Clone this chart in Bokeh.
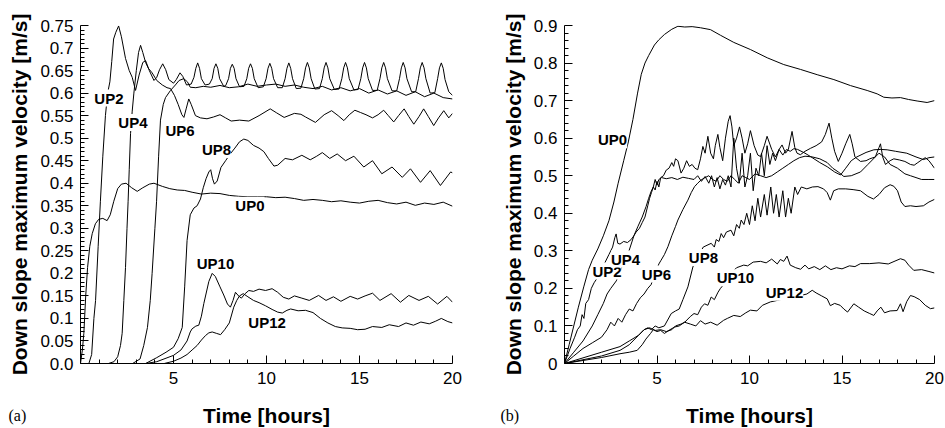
from bokeh.plotting import figure
from bokeh.layouts import row, column
from bokeh.models import Range1d, FixedTicker, CustomJSTickFormatter, Label
from bokeh.core.properties import value
from bokeh.embed import file_html
from bokeh.resources import INLINE

# ---------------- data: panel (a) ----------------
t_a_up0 = [0, 0.1, 0.18, 0.28, 0.38, 0.5, 0.63, 0.8, 0.98, 1.2, 1.43, 1.6, 1.79, 2.0, 2.2, 2.45, 2.75, 3.05,
           3.35, 3.7, 3.95, 4.4, 4.8, 5.2, 5.6, 6.0, 6.5, 7.0, 7.5, 8.0, 8.5, 9.0, 9.5, 10.0, 10.5, 11.0, 11.5,
           12.0, 12.5, 13.0, 13.5, 14.0, 14.5, 15.0, 15.5, 16.0, 16.5, 17.0, 17.5, 18.0, 18.5, 19.0, 19.5, 20.0]
v_a_up0 = [0, 0.03, 0.067, 0.15, 0.213, 0.26, 0.288, 0.31, 0.32, 0.322, 0.317, 0.33, 0.36, 0.388, 0.398, 0.4,
           0.39, 0.382, 0.39, 0.398, 0.4, 0.393, 0.388, 0.385, 0.384, 0.38, 0.376, 0.378, 0.377, 0.373, 0.371,
           0.37, 0.37, 0.37, 0.368, 0.369, 0.366, 0.362, 0.364, 0.362, 0.359, 0.361, 0.358, 0.356, 0.36, 0.362,
           0.357, 0.354, 0.358, 0.351, 0.356, 0.353, 0.358, 0.349]

t_a_up2 = [0, 0.45, 0.6, 0.72, 0.81, 0.95, 1.07, 1.2, 1.34, 1.46, 1.58, 1.68, 1.78, 1.9, 2.05, 2.2, 2.42,
           2.62, 2.78, 2.96, 3.15, 3.35, 3.5, 3.7, 3.95, 4.1, 4.25, 4.42, 4.58, 4.75, 5.0, 5.15, 5.35, 5.5,
           5.7, 5.95, 6.1, 6.2, 6.3, 6.4, 6.5, 6.7, 6.93, 7.08, 7.18, 7.28, 7.38, 7.48, 7.7, 7.81, 7.96, 8.06,
           8.16, 8.26, 8.36, 8.55, 8.79, 8.94, 9.04, 9.14, 9.24, 9.34, 9.55, 9.83, 9.98, 10.08, 10.18, 10.28,
           10.38, 10.6, 10.85, 11.0, 11.1, 11.2, 11.3, 11.4, 11.6, 11.85, 12.0, 12.1, 12.2, 12.3, 12.4, 12.6,
           12.85, 13.0, 13.1, 13.2, 13.3, 13.4, 13.65, 13.9, 14.05, 14.15, 14.25, 14.35, 14.45, 14.7, 14.92,
           15.07, 15.17, 15.27, 15.37, 15.47, 15.7, 15.95, 16.1, 16.2, 16.3, 16.4, 16.5, 16.75, 17.0, 17.15,
           17.25, 17.35, 17.45, 17.55, 17.8, 18.02, 18.17, 18.27, 18.37, 18.47, 18.57, 18.8, 19.05, 19.2,
           19.3, 19.4, 19.5, 19.6, 19.8, 20.0]
v_a_up2 = [0, 0, 0.02, 0.1, 0.14, 0.26, 0.36, 0.46, 0.55, 0.6, 0.625, 0.67, 0.72, 0.735, 0.749, 0.725, 0.677,
           0.65, 0.635, 0.606, 0.64, 0.668, 0.672, 0.65, 0.628, 0.635, 0.652, 0.665, 0.652, 0.63, 0.622, 0.63,
           0.645, 0.637, 0.618, 0.62, 0.635, 0.655, 0.667, 0.655, 0.632, 0.618, 0.62, 0.632, 0.655, 0.665,
           0.655, 0.632, 0.615, 0.617, 0.632, 0.655, 0.664, 0.655, 0.632, 0.614, 0.615, 0.632, 0.655, 0.665,
           0.655, 0.632, 0.612, 0.614, 0.632, 0.655, 0.666, 0.655, 0.632, 0.612, 0.612, 0.632, 0.655, 0.667,
           0.655, 0.632, 0.61, 0.611, 0.632, 0.656, 0.668, 0.656, 0.632, 0.609, 0.61, 0.632, 0.656, 0.668,
           0.656, 0.632, 0.608, 0.609, 0.632, 0.656, 0.668, 0.656, 0.632, 0.607, 0.608, 0.632, 0.656, 0.668,
           0.656, 0.632, 0.606, 0.606, 0.632, 0.656, 0.668, 0.656, 0.632, 0.605, 0.605, 0.632, 0.656, 0.668,
           0.656, 0.632, 0.603, 0.603, 0.632, 0.656, 0.668, 0.656, 0.632, 0.6, 0.601, 0.632, 0.656, 0.667,
           0.655, 0.63, 0.603, 0.595]

t_a_up4 = [0, 1.5, 1.8, 2.0, 2.15, 2.24, 2.33, 2.42, 2.5, 2.56, 2.62, 2.69, 2.78, 2.87, 3.0, 3.12, 3.23, 3.35,
           3.5, 3.65, 3.85, 4.1, 4.4, 4.65, 4.84, 5.05, 5.25, 5.45, 5.56, 5.68, 5.82, 5.95, 6.18, 6.45, 6.8,
           7.15, 7.5, 7.8, 8.1, 8.55, 9.05, 9.6, 10.2, 10.55, 10.95, 11.5, 11.85, 12.1, 12.63, 13.1, 13.5,
           13.85, 14.16, 14.45, 14.75, 15.05, 15.35, 15.7, 16.0, 16.3, 16.55, 16.84, 17.1, 17.4, 17.65, 17.92,
           18.2, 18.45, 18.7, 18.99, 19.25, 19.53, 19.8, 20.0]
v_a_up4 = [0, 0, 0.004, 0.015, 0.04, 0.067, 0.14, 0.213, 0.3, 0.36, 0.43, 0.51, 0.56, 0.6, 0.65, 0.69, 0.706,
           0.69, 0.668, 0.655, 0.645, 0.628, 0.618, 0.612, 0.61, 0.595, 0.575, 0.552, 0.546, 0.565, 0.587,
           0.575, 0.55, 0.545, 0.543, 0.547, 0.552, 0.545, 0.538, 0.54, 0.538, 0.55, 0.565, 0.556, 0.546,
           0.555, 0.553, 0.547, 0.535, 0.552, 0.561, 0.55, 0.539, 0.552, 0.562, 0.557, 0.552, 0.545, 0.552,
           0.562, 0.55, 0.536, 0.55, 0.565, 0.548, 0.531, 0.548, 0.565, 0.548, 0.528, 0.545, 0.561, 0.545,
           0.555]

t_a_up6 = [0, 2.8, 3.2, 3.4, 3.6, 3.75, 3.85, 4.0, 4.09, 4.2, 4.3, 4.45, 4.57, 4.84, 5.1, 5.3, 5.55, 5.75,
           5.9, 6.2, 6.6, 7.0, 7.5, 8.0, 8.5, 9.0, 9.5, 10.0, 10.5, 11.0, 11.5, 12.0, 12.5, 13.0, 13.5, 14.0,
           14.5, 15.0, 15.5, 16.0, 16.5, 17.0, 17.5, 18.0, 18.5, 19.0, 19.5, 20.0]
v_a_up6 = [0, 0, 0.01, 0.04, 0.08, 0.14, 0.2, 0.3, 0.36, 0.46, 0.54, 0.575, 0.59, 0.606, 0.618, 0.628, 0.632,
           0.625, 0.613, 0.612, 0.615, 0.613, 0.617, 0.612, 0.614, 0.62, 0.615, 0.618, 0.62, 0.615, 0.618,
           0.613, 0.61, 0.615, 0.607, 0.612, 0.605, 0.61, 0.6, 0.607, 0.598, 0.605, 0.595, 0.603, 0.592, 0.6,
           0.59, 0.587]

t_a_up8 = [0, 3.5, 4.1, 4.6, 5.0, 5.25, 5.47, 5.6, 5.73, 5.9, 6.1, 6.27, 6.45, 6.6, 6.75, 6.9, 7.0, 7.1, 7.2,
           7.35, 7.55, 7.8, 8.05, 8.3, 8.55, 8.78, 9.0, 9.3, 9.6, 9.86, 10.1, 10.4, 10.6, 11.0, 11.4, 11.9,
           12.35, 12.7, 13.0, 13.4, 13.8, 14.25, 14.7, 15.23, 15.7, 16.2, 16.75, 17.3, 17.74, 18.28, 18.8,
           19.35, 19.9, 20.0]
v_a_up8 = [0, 0, 0.013, 0.025, 0.036, 0.055, 0.08, 0.17, 0.273, 0.33, 0.345, 0.35, 0.365, 0.39, 0.41, 0.425,
           0.43, 0.41, 0.398, 0.405, 0.435, 0.45, 0.465, 0.478, 0.492, 0.498, 0.495, 0.484, 0.478, 0.47, 0.455,
           0.438, 0.44, 0.455, 0.452, 0.462, 0.452, 0.46, 0.468, 0.455, 0.465, 0.45, 0.46, 0.436, 0.45, 0.421,
           0.436, 0.413, 0.432, 0.402, 0.428, 0.395, 0.425, 0.423]

t_a_up10 = [0, 3.5, 4.1, 5.0, 5.4, 5.73, 5.9, 6.0, 6.2, 6.36, 6.5, 6.63, 6.9, 7.08, 7.25, 7.5, 7.7, 7.9, 8.06,
            8.2, 8.33, 8.5, 8.65, 8.85, 9.05, 9.3, 9.6, 9.95, 10.3, 10.6, 10.9, 11.2, 11.5, 11.9, 12.3, 12.8,
            13.2, 13.6, 14.0, 14.5, 14.9, 15.3, 15.7, 16.1, 16.7, 17.2, 17.65, 18.2, 18.7, 19.2, 19.7, 20.0]
v_a_up10 = [0, 0, 0.004, 0.018, 0.03, 0.05, 0.07, 0.077, 0.083, 0.085, 0.105, 0.133, 0.182, 0.2, 0.193,
            0.17, 0.152, 0.132, 0.125, 0.14, 0.158, 0.15, 0.145, 0.155, 0.162, 0.16, 0.165, 0.162, 0.166,
            0.158, 0.147, 0.143, 0.15, 0.145, 0.14, 0.151, 0.14, 0.148, 0.138, 0.149, 0.143, 0.15, 0.156, 0.14,
            0.155, 0.136, 0.151, 0.14, 0.149, 0.132, 0.149, 0.136]

t_a_up12 = [0, 4.5, 5.0, 5.4, 5.73, 6.0, 6.27, 6.5, 6.72, 6.9, 7.08, 7.3, 7.53, 7.75, 8.0, 8.24, 8.4, 8.55,
            8.75, 9.0, 9.3, 9.6, 9.95, 10.3, 10.6, 10.85, 11.1, 11.3, 11.7, 12.1, 12.5, 12.9, 13.3, 13.7,
            14.07, 14.5, 14.9, 15.3, 15.7, 16.2, 16.6, 17.1, 17.5, 17.9, 18.3, 18.75, 19.1, 19.4, 19.75, 20.0]
v_a_up12 = [0, 0, 0.005, 0.012, 0.02, 0.03, 0.04, 0.052, 0.062, 0.068, 0.07, 0.067, 0.064, 0.075, 0.09,
            0.125, 0.14, 0.15, 0.155, 0.148, 0.14, 0.135, 0.128, 0.12, 0.114, 0.112, 0.118, 0.121, 0.117,
            0.118, 0.113, 0.1, 0.09, 0.082, 0.079, 0.078, 0.075, 0.076, 0.082, 0.08, 0.086, 0.082, 0.09, 0.085,
            0.092, 0.088, 0.094, 0.1, 0.093, 0.09]

# ---------------- data: panel (b) ----------------
t_b_up0 = [0, 0.25, 0.5, 0.75, 1.04, 1.3, 1.5, 1.8, 2.1, 2.4, 2.67, 2.9, 3.2, 3.45, 3.7, 3.95, 4.15, 4.35,
           4.55, 4.86, 5.1, 5.4, 5.8, 6.13, 6.5, 6.9, 7.35, 7.89, 8.43, 9.15, 10.05, 10.96, 11.85, 12.76, 13.66,
           14.56, 15.46, 16.36, 16.9, 17.26, 17.7, 18.16, 18.6, 19.06, 19.6, 20.0]
v_b_up0 = [0, 0.05, 0.1, 0.15, 0.204, 0.25, 0.275, 0.305, 0.34, 0.38, 0.43, 0.48, 0.54, 0.59, 0.65, 0.72,
           0.77, 0.8, 0.82, 0.848, 0.862, 0.876, 0.89, 0.898, 0.896, 0.897, 0.894, 0.889, 0.874, 0.855, 0.836,
           0.814, 0.796, 0.783, 0.769, 0.756, 0.74, 0.727, 0.718, 0.709, 0.707, 0.708, 0.703, 0.699, 0.695, 0.7]

t_b_up2 = [0, 0.3, 0.55, 0.7, 0.85, 0.95, 1.05, 1.15, 1.3, 1.45, 1.6, 1.8, 2.0, 2.2, 2.4, 2.6, 2.72, 2.79,
           2.88, 3.0, 3.2, 3.4, 3.6, 3.75, 3.87, 4.05, 4.2, 4.35, 4.5, 4.6, 4.7, 4.8, 4.9, 5.0, 5.1, 5.2, 5.35,
           5.5, 5.65, 5.8, 5.9, 6.0, 6.13, 6.3, 6.45, 6.6, 6.75, 6.9, 7.05, 7.2, 7.35, 7.48, 7.6, 7.75, 7.9,
           8.05, 8.15, 8.29, 8.4, 8.55, 8.7, 8.85, 8.95, 9.05, 9.15, 9.3, 9.46, 9.6, 9.75, 9.9, 10.05, 10.25,
           10.45, 10.6, 10.8, 10.95, 11.2, 11.4, 11.6, 11.76, 11.95, 12.1, 12.3, 12.45, 12.57, 12.75, 13.0,
           13.3, 13.6, 13.9, 14.1, 14.3, 14.45, 14.6, 14.8, 15.0, 15.2, 15.42, 15.55, 15.7, 16.0, 16.3, 16.5,
           16.8, 17.0, 17.08, 17.2, 17.35, 17.6, 17.8, 18.1, 18.4, 18.7, 18.9, 19.1, 19.3, 19.5, 19.7, 20.0]
v_b_up2 = [0, 0.04, 0.07, 0.09, 0.1, 0.13, 0.12, 0.16, 0.17, 0.2, 0.215, 0.23, 0.25, 0.27, 0.29, 0.31, 0.335,
           0.345, 0.32, 0.318, 0.325, 0.322, 0.33, 0.34, 0.35, 0.36, 0.375, 0.39, 0.42, 0.44, 0.455, 0.47,
           0.462, 0.485, 0.47, 0.495, 0.5, 0.515, 0.52, 0.535, 0.525, 0.545, 0.54, 0.507, 0.52, 0.54, 0.525,
           0.53, 0.52, 0.516, 0.545, 0.578, 0.56, 0.605, 0.56, 0.545, 0.58, 0.61, 0.575, 0.54, 0.6, 0.645,
           0.66, 0.63, 0.58, 0.6, 0.63, 0.6, 0.56, 0.585, 0.62, 0.58, 0.555, 0.551, 0.58, 0.605, 0.57, 0.55,
           0.57, 0.582, 0.56, 0.57, 0.618, 0.575, 0.56, 0.556, 0.565, 0.573, 0.58, 0.59, 0.61, 0.64, 0.6,
           0.565, 0.538, 0.56, 0.585, 0.61, 0.585, 0.55, 0.538, 0.54, 0.545, 0.55, 0.575, 0.585, 0.55, 0.53,
           0.54, 0.545, 0.542, 0.538, 0.53, 0.528, 0.535, 0.542, 0.548, 0.54, 0.52]

t_b_up4 = [0, 0.5, 1.0, 1.5, 1.8, 2.1, 2.3, 2.5, 2.8, 3.0, 3.2, 3.5, 3.75, 3.96, 4.2, 4.41, 4.55, 4.68, 4.8,
           4.9, 5.0, 5.1, 5.25, 5.5, 5.8, 6.1, 6.4, 6.7, 7.0, 7.2, 7.4, 7.6, 7.8, 7.95, 8.1, 8.25, 8.4, 8.55,
           8.7, 8.85, 9.0, 9.15, 9.3, 9.45, 9.6, 9.75, 9.9, 10.05, 10.2, 10.35, 10.5, 10.65, 10.8, 10.95, 11.1,
           11.25, 11.4, 11.6, 11.8, 12.0, 12.2, 12.4, 12.6, 13.0, 13.3, 13.8, 14.2, 14.6, 14.92, 15.2, 15.5,
           15.8, 16.3, 16.72, 17.1, 17.44, 17.9, 18.5, 19.0, 19.4, 19.7, 20.0]
v_b_up4 = [0, 0.03, 0.06, 0.1, 0.13, 0.16, 0.185, 0.2, 0.22, 0.245, 0.27, 0.302, 0.34, 0.364, 0.39, 0.418,
           0.44, 0.458, 0.47, 0.49, 0.475, 0.49, 0.495, 0.492, 0.495, 0.49, 0.496, 0.493, 0.49, 0.5, 0.485,
           0.498, 0.48, 0.5, 0.47, 0.495, 0.465, 0.49, 0.475, 0.5, 0.47, 0.6, 0.52, 0.48, 0.56, 0.47, 0.5,
           0.56, 0.46, 0.52, 0.5, 0.56, 0.5, 0.58, 0.53, 0.56, 0.54, 0.57, 0.555, 0.57, 0.565, 0.572, 0.57,
           0.56, 0.551, 0.535, 0.524, 0.51, 0.502, 0.52, 0.54, 0.55, 0.562, 0.569, 0.57, 0.569, 0.565, 0.56,
           0.55, 0.543, 0.548, 0.55]

t_b_up6 = [0, 0.5, 1.0, 1.5, 2.0, 2.3, 2.5, 2.7, 2.9, 3.1, 3.3, 3.5, 3.7, 3.9, 4.1, 4.3, 4.5, 4.68, 4.9, 5.1,
           5.22, 5.4, 5.59, 5.8, 6.0, 6.13, 6.4, 6.67, 6.85, 7.03, 7.2, 7.39, 7.6, 7.8, 8.0, 8.2, 8.4, 8.6,
           8.8, 9.0, 9.2, 9.4, 9.6, 9.8, 10.0, 10.3, 10.6, 10.9, 11.2, 11.5, 11.8, 12.1, 12.4, 12.7, 13.0,
           13.4, 13.8, 14.2, 14.5, 14.8, 15.1, 15.5, 16.0, 16.4, 16.8, 17.0, 17.3, 17.6, 18.0, 18.4, 18.7,
           19.0, 19.3, 19.7, 20.0]
v_b_up6 = [0, 0.02, 0.04, 0.055, 0.07, 0.09, 0.11, 0.1, 0.12, 0.11, 0.13, 0.145, 0.14, 0.16, 0.175, 0.185,
           0.2, 0.21, 0.24, 0.265, 0.275, 0.29, 0.311, 0.34, 0.365, 0.382, 0.41, 0.435, 0.455, 0.471, 0.48,
           0.489, 0.495, 0.5, 0.49, 0.485, 0.5, 0.49, 0.485, 0.5, 0.49, 0.48, 0.5, 0.495, 0.49, 0.505, 0.5,
           0.495, 0.5, 0.51, 0.52, 0.53, 0.54, 0.548, 0.552, 0.55, 0.545, 0.535, 0.52, 0.51, 0.498, 0.5, 0.51,
           0.53, 0.55, 0.56, 0.55, 0.53, 0.52, 0.505, 0.5, 0.495, 0.49, 0.49, 0.49]

t_b_up8 = [0, 1.0, 2.0, 3.0, 3.5, 4.0, 4.3, 4.5, 4.7, 4.9, 5.1, 5.4, 5.77, 6.0, 6.2, 6.4, 6.67, 6.94, 7.1,
           7.5, 7.93, 8.1, 8.2, 8.35, 8.47, 8.6, 8.75, 9.0, 9.15, 9.3, 9.45, 9.55, 9.7, 9.85, 10.0, 10.15,
           10.3, 10.45, 10.6, 10.8, 10.95, 11.15, 11.3, 11.45, 11.6, 11.8, 11.95, 12.1, 12.25, 12.45, 12.6,
           12.8, 13.1, 13.4, 13.7, 14.0, 14.2, 14.37, 14.55, 14.8, 15.2, 15.6, 16.0, 16.4, 16.7, 17.0, 17.3,
           17.6, 17.8, 18.0, 18.2, 18.4, 18.7, 19.0, 19.4, 19.7, 20.0]
v_b_up8 = [0, 0.015, 0.03, 0.045, 0.06, 0.075, 0.09, 0.095, 0.09, 0.1, 0.095, 0.1, 0.133, 0.14, 0.145, 0.17,
           0.204, 0.257, 0.275, 0.31, 0.32, 0.31, 0.33, 0.325, 0.346, 0.335, 0.35, 0.355, 0.34, 0.37, 0.36,
           0.382, 0.37, 0.4, 0.37, 0.42, 0.38, 0.44, 0.39, 0.45, 0.395, 0.47, 0.4, 0.45, 0.39, 0.46, 0.39,
           0.44, 0.4, 0.47, 0.45, 0.47, 0.465, 0.47, 0.471, 0.465, 0.455, 0.435, 0.46, 0.465, 0.465, 0.463,
           0.46, 0.445, 0.438, 0.45, 0.468, 0.476, 0.472, 0.46, 0.43, 0.418, 0.42, 0.418, 0.42, 0.43, 0.437]

t_b_up10 = [0, 1.0, 2.0, 3.0, 3.5, 4.0, 4.3, 4.6, 4.9, 5.2, 5.5, 5.8, 6.0, 6.3, 6.5, 6.8, 7.0, 7.2, 7.4,
            7.57, 7.75, 7.93, 8.1, 8.3, 8.43, 8.6, 8.75, 9.0, 9.3, 9.69, 9.9, 10.2, 10.6, 10.9, 11.2, 11.5,
            11.67, 11.85, 12.03, 12.2, 12.5, 12.76, 13.0, 13.2, 13.5, 13.8, 14.1, 14.4, 14.7, 15.0, 15.4,
            15.7, 16.0, 16.5, 17.0, 17.5, 18.16, 18.4, 18.6, 18.88, 19.3, 19.7, 20.0]
v_b_up10 = [0, 0.01, 0.02, 0.035, 0.05, 0.075, 0.09, 0.095, 0.088, 0.09, 0.085, 0.09, 0.1, 0.105, 0.11,
            0.125, 0.133, 0.13, 0.15, 0.159, 0.155, 0.177, 0.17, 0.19, 0.2, 0.21, 0.225, 0.24, 0.255, 0.262,
            0.26, 0.27, 0.272, 0.268, 0.278, 0.265, 0.277, 0.272, 0.286, 0.262, 0.255, 0.251, 0.262, 0.252,
            0.258, 0.25, 0.26, 0.25, 0.255, 0.252, 0.26, 0.258, 0.266, 0.266, 0.268, 0.265, 0.279, 0.275,
            0.262, 0.248, 0.25, 0.245, 0.241]

t_b_up12 = [0, 1.0, 2.0, 3.0, 3.5, 3.93, 4.2, 4.4, 4.65, 4.8, 5.0, 5.2, 5.4, 5.7, 5.95, 6.2, 6.49, 6.8, 7.1,
            7.35, 7.6, 7.9, 8.25, 8.6, 8.8, 9.15, 9.5, 9.8, 10.05, 10.4, 10.7, 11.13, 11.5, 11.85, 12.4, 12.76,
            13.1, 13.39, 13.6, 13.9, 14.2, 14.37, 14.6, 14.9, 15.1, 15.3, 15.64, 15.9, 16.2, 16.5, 16.72,
            16.9, 17.1, 17.3, 17.6, 17.98, 18.16, 18.3, 18.5, 18.7, 18.9, 19.2, 19.5, 19.78, 20.0]
v_b_up12 = [0, 0.008, 0.016, 0.026, 0.03, 0.035, 0.05, 0.065, 0.08, 0.09, 0.085, 0.088, 0.08, 0.09, 0.097,
            0.1, 0.11, 0.105, 0.1, 0.114, 0.105, 0.11, 0.102, 0.115, 0.12, 0.128, 0.125, 0.135, 0.142, 0.14,
            0.155, 0.164, 0.168, 0.172, 0.176, 0.181, 0.185, 0.195, 0.188, 0.18, 0.172, 0.154, 0.16, 0.155,
            0.145, 0.137, 0.159, 0.15, 0.14, 0.133, 0.128, 0.14, 0.15, 0.135, 0.14, 0.141, 0.159, 0.138, 0.165,
            0.181, 0.178, 0.17, 0.155, 0.146, 0.148]

# ---------------- ticks and labels ----------------
x_ticks = [5, 10, 15, 20]
y_ticks_a = [0.0, 0.05, 0.1, 0.15, 0.2, 0.25, 0.3, 0.35, 0.4, 0.45, 0.5, 0.55, 0.6, 0.65, 0.7, 0.75]
y_labels_a = ["0.0", "0.05", "0.1", "0.15", "0.2", "0.25", "0.3", "0.35", "0.4", "0.45", "0.5", "0.55",
              "0.6", "0.65", "0.7", "0.75"]
y_ticks_b = [0.0, 0.1, 0.2, 0.3, 0.4, 0.5, 0.6, 0.7, 0.8, 0.9]
y_labels_b = ["0", "0.1", "0.2", "0.3", "0.4", "0.5", "0.6", "0.7", "0.8", "0.9"]

labels_a = ["UP2", "UP4", "UP6", "UP8", "UP0", "UP10", "UP12"]
lab_x_a = [1.53, 2.82, 5.35, 7.31, 9.11, 7.26, 10.03]
lab_y_a = [0.589, 0.535, 0.517, 0.475, 0.351, 0.223, 0.09]
labels_b = ["UP0", "UP2", "UP4", "UP6", "UP8", "UP10", "UP12"]
lab_x_b = [2.6, 2.3, 3.3, 4.97, 7.51, 9.24, 11.89]
lab_y_b = [0.596, 0.246, 0.278, 0.238, 0.282, 0.228, 0.19]

x_title = "Time [hours]"
y_title = "Down slope maximum velocity [m/s]"
panel_tags = ["(a)", "(b)"]

SANS = "Liberation Sans"
SERIF = "Liberation Serif"


def make_panel(width, border_left, border_right, y_end, y_ticks, y_labels, y_minor, series,
               labels, lab_x, lab_y):
    p = figure(width=width, height=393, output_backend="svg", toolbar_location=None, title=None,
               x_range=Range1d(0, 20), y_range=Range1d(0, y_end),
               min_border_left=border_left, min_border_right=border_right,
               min_border_top=25, min_border_bottom=30)
    p.outline_line_color = None
    p.grid.visible = False
    p.background_fill_color = "white"
    p.border_fill_color = "white"

    for t, v in series:
        p.line(t, v, line_color="black", line_width=1)

    for txt, lx, ly in zip(labels, lab_x, lab_y):
        p.add_layout(Label(x=lx, y=ly, text=txt, text_font=SANS, text_font_style="bold",
                           text_font_size="15px", text_align="center", text_baseline="middle",
                           text_color="black", background_fill_color="white"))

    xminor = [m for m in range(1, 20) if m % 5 != 0]
    p.xaxis.ticker = FixedTicker(ticks=x_ticks, minor_ticks=xminor)
    p.yaxis.ticker = FixedTicker(ticks=y_ticks, minor_ticks=y_minor)
    p.yaxis.formatter = CustomJSTickFormatter(
        args=dict(tv=y_ticks, tl=y_labels),
        code="const i = tv.findIndex(t => Math.abs(t - tick) < 1e-9); return i >= 0 ? tl[i] : '';")

    for ax in (p.xaxis[0], p.yaxis[0]):
        ax.axis_line_color = "black"
        ax.axis_line_width = 1
        ax.major_tick_in = 8
        ax.major_tick_out = 0
        ax.minor_tick_in = 4
        ax.minor_tick_out = 0
        ax.major_tick_line_color = "black"
        ax.minor_tick_line_color = "black"
        ax.major_label_text_font = SANS
        ax.major_label_text_font_size = "17px"
        ax.major_label_text_color = "black"
        ax.axis_label_text_font = SANS
        ax.axis_label_text_font_style = "bold"
        ax.axis_label_text_color = "black"

    p.xaxis.major_label_standoff = 8
    p.yaxis.major_label_standoff = 7
    p.yaxis.axis_label_standoff = 6
    p.yaxis.axis_label_text_font_size = "21px"
    p.yaxis.axis_label = y_title
    return p


series_a = [(t_a_up0, v_a_up0), (t_a_up2, v_a_up2), (t_a_up4, v_a_up4), (t_a_up6, v_a_up6),
            (t_a_up8, v_a_up8), (t_a_up10, v_a_up10), (t_a_up12, v_a_up12)]
series_b = [(t_b_up0, v_b_up0), (t_b_up2, v_b_up2), (t_b_up4, v_b_up4), (t_b_up6, v_b_up6),
            (t_b_up8, v_b_up8), (t_b_up10, v_b_up10), (t_b_up12, v_b_up12)]

minor_a = [i * 0.01 for i in range(76) if i % 5 != 0]
minor_b = [i * 0.02 for i in range(46) if i % 5 != 0]

p1 = make_panel(474, 80, 22, 0.75, y_ticks_a, y_labels_a, minor_a, series_a, labels_a, lab_x_a, lab_y_a)
p2 = make_panel(470, 90, 10, 0.9, y_ticks_b, y_labels_b, minor_b, series_b, labels_b, lab_x_b, lab_y_b)

# strip underneath the two panels holding the x titles and the panel tags (pixel coordinates)
strip = figure(width=944, height=34, output_backend="svg", toolbar_location=None, title=None,
               x_range=Range1d(0, 944), y_range=Range1d(0, 34),
               min_border_left=0, min_border_right=0, min_border_top=0, min_border_bottom=0,
               x_axis_location=None, y_axis_location=None)
strip.outline_line_color = None
strip.grid.visible = False
strip.background_fill_color = "white"
strip.border_fill_color = "white"
strip.text(x=[8, 500], y=[12, 12], text=panel_tags, text_font=value(SERIF), text_font_size="16px",
           text_align="left", text_baseline="middle", text_color="black")
strip.text(x=[266, 749], y=[12, 12], text=[x_title, x_title], text_font=value(SANS),
           text_font_style="bold", text_font_size="21px", text_align="center",
           text_baseline="middle", text_color="black")

layout = column(row(p1, p2), strip)
open("out.html", "w").write(file_html(layout, INLINE))
